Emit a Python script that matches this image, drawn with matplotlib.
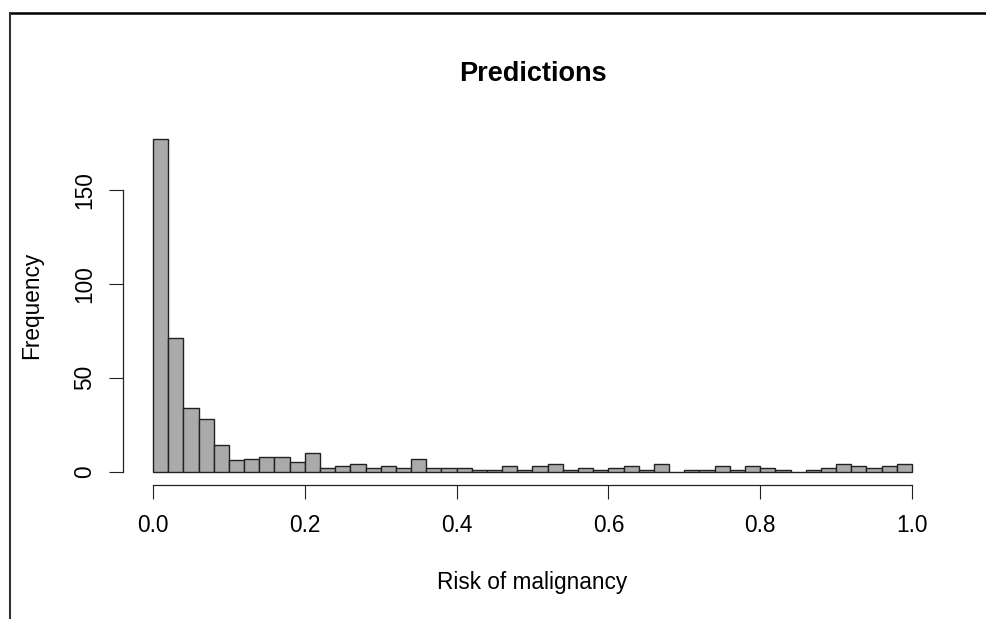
import numpy as np
import matplotlib
matplotlib.use("Agg")
import matplotlib.pyplot as plt
from matplotlib.lines import Line2D

# histogram of predicted risk, 50 bins of width 0.02 on [0, 1]
bin_edges = np.linspace(0.0, 1.0, 51)
counts = [177, 71, 34, 28, 14, 6, 7, 8, 8, 5,
          10, 2, 3, 4, 2, 3, 2, 7, 2, 2,
          2, 1, 1, 3, 1, 3, 4, 1, 2, 1,
          2, 3, 1, 4, 0, 1, 1, 3, 1, 3,
          2, 1, 0, 1, 2, 4, 3, 2, 3, 4]
x_ticks = [0.0, 0.2, 0.4, 0.6, 0.8, 1.0]
y_ticks = [0, 50, 100, 150]

plt.rcParams['font.family'] = ['Liberation Sans', 'DejaVu Sans']

W, H = 987, 619
fig = plt.figure(figsize=(W / 100, H / 100), dpi=100)
ax = fig.add_axes([122.6 / W, 1 - 485 / H, (942.4 - 122.6) / W, (485 - 126.2) / H])

centers = (bin_edges[:-1] + bin_edges[1:]) / 2
ax.hist(centers, bins=bin_edges, weights=counts, color='#aaaaaa',
        edgecolor='#222222', linewidth=1.0)

# R style axes: 4% padding, axis lines only between the outer ticks
ax.set_xlim(-0.04, 1.04)
ax.set_ylim(-0.04 * max(counts), 1.04 * max(counts))
for s in ['top', 'right']:
    ax.spines[s].set_visible(False)
ax.spines['bottom'].set_bounds(x_ticks[0], x_ticks[-1])
ax.spines['left'].set_bounds(y_ticks[0], y_ticks[-1])
for s in ['bottom', 'left']:
    ax.spines[s].set_linewidth(0.9)
    ax.spines[s].set_color('#222222')

ax.set_xticks(x_ticks)
ax.set_xticklabels([f"{t:.1f}" for t in x_ticks])
ax.set_yticks(y_ticks)
ax.set_yticklabels([str(t) for t in y_ticks], rotation=90, va='center')
ax.tick_params(axis='both', length=10, width=0.8, color='#222222',
               labelsize=16.3)
ax.tick_params(axis='x', pad=11)
ax.tick_params(axis='y', pad=9)

fig.text(532.5 / W, 1 - 81 / H, "Predictions", ha='center', va='baseline',
         fontsize=19.5, fontweight='bold')
fig.text(532.5 / W, 1 - 582 / H, "Risk of malignancy", ha='center',
         va='center', fontsize=16.3)
fig.text(32 / W, 1 - 305 / H, "Frequency", ha='center', va='center',
         rotation=90, fontsize=16.3)

# frame lines of the cropped window
fig.add_artist(Line2D([10 / W, 1.0], [1 - 13 / H, 1 - 13 / H],
                      transform=fig.transFigure, color='black', lw=1.8))
fig.add_artist(Line2D([10 / W, 10 / W], [0.0, 1 - 13 / H],
                      transform=fig.transFigure, color='#333333', lw=1.5))

fig.savefig("out.png", dpi=100)
